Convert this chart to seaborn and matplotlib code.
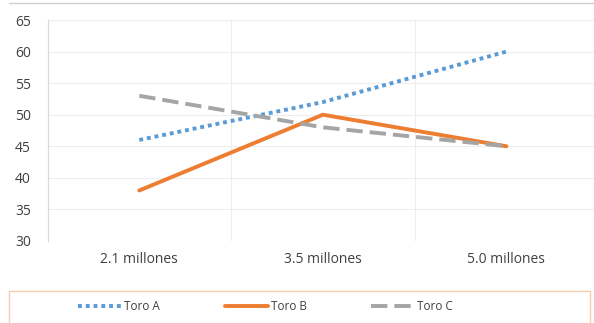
import matplotlib
matplotlib.use("Agg")
import matplotlib.pyplot as plt
import seaborn as sns
import pandas as pd
from matplotlib.patches import Rectangle
from matplotlib.lines import Line2D

categories = ["2.1 millones", "3.5 millones", "5.0 millones"]
toro_a = [46, 52, 60]
toro_b = [38, 50, 45]
toro_c = [53, 48, 45]
series_names = ["Toro A", "Toro B", "Toro C"]
y_ticks = [30, 35, 40, 45, 50, 55, 60, 65]

sns.set_theme(style="white")
plt.rcParams["font.family"] = ["Open Sans", "DejaVu Sans"]

rows = []
for name, vals in zip(series_names, [toro_a, toro_b, toro_c]):
    for i, (cat, v) in enumerate(zip(categories, vals)):
        rows.append({"pos": i, "cat": cat, "serie": name, "valor": v})
df = pd.DataFrame(rows)

colors = {"Toro A": "#5B9BD5", "Toro B": "#ED7D31", "Toro C": "#A5A5A5"}
dashes = {"Toro A": (1, 1), "Toro B": "", "Toro C": (4.2, 1.8)}
LW = 2.8

fig = plt.figure(figsize=(5.94, 3.23), dpi=100)
ax = fig.add_axes([0.080, 0.254, 0.927, 0.684])

sns.lineplot(data=df, x="pos", y="valor", hue="serie", style="serie",
             palette=colors, dashes=dashes, linewidth=LW, ax=ax,
             legend=False, zorder=3)

ax.set_xlim(-0.5, 2.5)
ax.set_ylim(30, 65)
ax.set_yticks(y_ticks)
ax.set_xticks(range(len(categories)))
ax.set_xticklabels(categories)
ax.set_xlabel("")
ax.set_ylabel("")

# horizontal gridlines and category separators
for y in y_ticks[1:]:
    ax.axhline(y, color="#EDEDED", lw=0.8, zorder=0)
for x in [0.5, 1.5]:
    ax.axvline(x, color="#EDEDED", lw=0.8, zorder=0)

for side in ["top", "right", "bottom"]:
    ax.spines[side].set_visible(False)
ax.spines["left"].set_color("#D9D9D9")
ax.spines["left"].set_linewidth(0.8)
ax.tick_params(axis="both", length=0, labelsize=10, colors="#404040")
ax.tick_params(axis="y", pad=12)
ax.tick_params(axis="x", pad=8)

# top border line of the chart area
fig.add_artist(Line2D([9 / 594, 1.0], [1 - 3 / 323, 1 - 3 / 323],
                      color="#D0D0D0", lw=1.0, transform=fig.transFigure))

# legend box
fig.add_artist(Rectangle((9 / 594, -0.02), (590 - 9) / 594, (323 - 291) / 323 + 0.02,
                         transform=fig.transFigure, fill=False,
                         edgecolor="#F8CBAD", lw=1.0))

handles = [Line2D([0], [0], color=colors["Toro A"], lw=LW, dashes=dashes["Toro A"]),
           Line2D([0], [0], color=colors["Toro B"], lw=LW),
           Line2D([0], [0], color=colors["Toro C"], lw=LW, dashes=dashes["Toro C"])]
fig.legend(handles, series_names, loc="center", bbox_to_anchor=(265.5 / 594, 1 - 307 / 323),
           ncol=3, frameon=False, fontsize=8.5, handlelength=3.7,
           handletextpad=0.2, columnspacing=5.5, labelcolor="#404040",
           borderpad=0, borderaxespad=0)

fig.savefig("out.png", dpi=100)
